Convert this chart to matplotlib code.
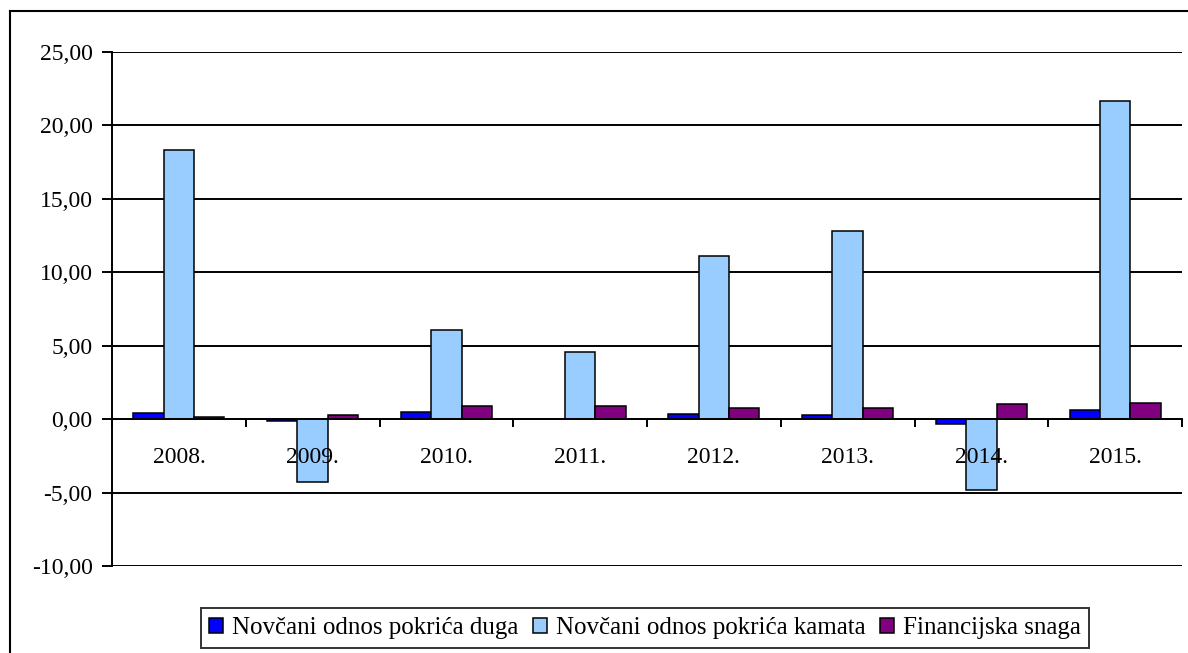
import numpy as np
import matplotlib
matplotlib.use('Agg')
import matplotlib.pyplot as plt
from matplotlib.lines import Line2D

plt.rcParams['font.family'] = ['Liberation Serif', 'DejaVu Serif']

# podaci
godine = ['2008.', '2009.', '2010.', '2011.', '2012.', '2013.', '2014.', '2015.']
pokrice_duga = [0.40, -0.10, 0.50, 0.0, 0.37, 0.25, -0.30, 0.64]
pokrice_kamata = [18.30, -4.25, 6.10, 4.55, 11.10, 12.80, -4.80, 21.65]
financijska_snaga = [0.13, 0.27, 0.92, 0.92, 0.78, 0.78, 1.03, 1.12]

serije = ['Novčani odnos pokrića duga', 'Novčani odnos pokrića kamata', 'Financijska snaga']
boje = ['#0000FF', '#99CCFF', '#800080']

fig = plt.figure(figsize=(11.88, 6.53), dpi=100)
ax = fig.add_axes([112/1188, 1-566/653, 1070/1188, 514/653])

x = np.arange(len(godine))
w = 0.227
for i, (vals, boja, ime) in enumerate(zip([pokrice_duga, pokrice_kamata, financijska_snaga], boje, serije)):
    ax.bar(x + (i-1)*w, vals, width=w, color=boja, edgecolor='black', linewidth=1.1, label=ime, zorder=3)

ax.set_xlim(-0.5, len(godine)-0.5)
ax.set_ylim(-10, 25)
yt = np.arange(-10, 26, 5)
ax.set_yticks(yt)
ax.set_yticklabels(['{:.2f}'.format(v).replace('.', ',') for v in yt], fontsize=17)
for v in yt:
    ax.axhline(v, color='black', linewidth=1.4, zorder=1)

# x os na nuli
ax.spines['bottom'].set_position(('data', 0))
ax.spines['bottom'].set_linewidth(1.4)
ax.spines['bottom'].set_zorder(4)
ax.spines['top'].set_visible(False)
ax.spines['right'].set_visible(False)
ax.spines['left'].set_linewidth(1.4)
ax.xaxis.set_zorder(5)  # oznake godina preko stupaca

ax.set_xticks(x)
ax.set_xticklabels(godine, fontsize=17)
ax.tick_params(axis='x', which='major', length=0, pad=20)
ax.set_xticks(np.arange(-0.5, len(godine)), minor=True)
ax.tick_params(axis='x', which='minor', length=6, width=1.4, direction='out')
ax.tick_params(axis='y', length=7, width=1.4, pad=7)

leg = ax.legend(loc='center', bbox_to_anchor=(645/1188, 1-628/653), bbox_transform=fig.transFigure,
                ncol=3, fontsize=18, frameon=True, fancybox=False, edgecolor='black',
                handlelength=0.55, handleheight=0.55, handletextpad=0.35, columnspacing=0.6,
                borderpad=0.35, borderaxespad=0)
leg.get_frame().set_linewidth(1.4)

# okvir grafikona
fig.add_artist(Line2D([10/1188, 10/1188], [0, 1-11/653], color='black', linewidth=1.5))
fig.add_artist(Line2D([10/1188, 1], [1-11/653, 1-11/653], color='black', linewidth=1.5))

fig.savefig('out.png', dpi=100)
